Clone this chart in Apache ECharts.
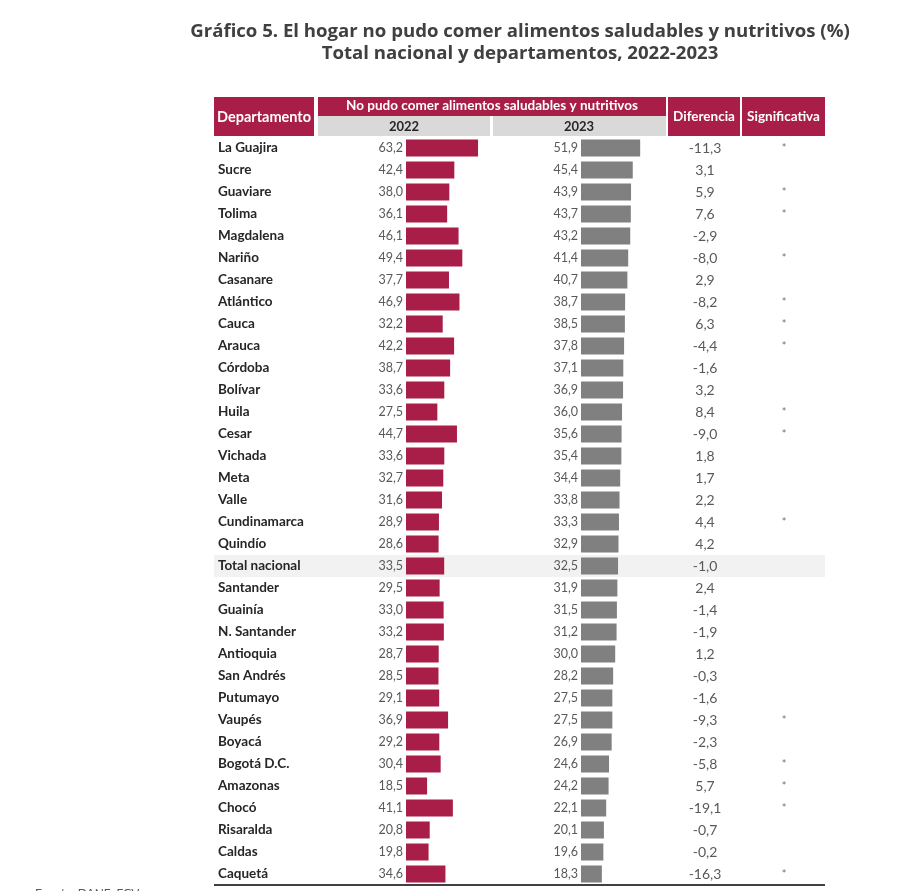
<!DOCTYPE html>
<html>
<head>
<meta charset="utf-8">
<script src="https://cdn.jsdelivr.net/npm/echarts@6/dist/echarts.min.js"></script>
<style>html,body{margin:0;padding:0;background:#fff}#c{width:906px;height:891px}</style>
</head>
<body>
<div id="c"></div>
<script>
const departamentos = ['La Guajira','Sucre','Guaviare','Tolima','Magdalena','Nariño','Casanare','Atlántico','Cauca','Arauca','Córdoba','Bolívar','Huila','Cesar','Vichada','Meta','Valle','Cundinamarca','Quindío','Total nacional','Santander','Guainía','N. Santander','Antioquia','San Andrés','Putumayo','Vaupés','Boyacá','Bogotá D.C.','Amazonas','Chocó','Risaralda','Caldas','Caquetá'];
const valores2022 = [63.2,42.4,38.0,36.1,46.1,49.4,37.7,46.9,32.2,42.2,38.7,33.6,27.5,44.7,33.6,32.7,31.6,28.9,28.6,33.5,29.5,33.0,33.2,28.7,28.5,29.1,36.9,29.2,30.4,18.5,41.1,20.8,19.8,34.6];
const valores2023 = [51.9,45.4,43.9,43.7,43.2,41.4,40.7,38.7,38.5,37.8,37.1,36.9,36.0,35.6,35.4,34.4,33.8,33.3,32.9,32.5,31.9,31.5,31.2,30.0,28.2,27.5,27.5,26.9,24.6,24.2,22.1,20.1,19.6,18.3];
const diferencia = [-11.3,3.1,5.9,7.6,-2.9,-8.0,2.9,-8.2,6.3,-4.4,-1.6,3.2,8.4,-9.0,1.8,1.7,2.2,4.4,4.2,-1.0,2.4,-1.4,-1.9,1.2,-0.3,-1.6,-9.3,-2.3,-5.8,5.7,-19.1,-0.7,-0.2,-16.3];
const significativa = ['*','','*','*','','*','','*','*','*','','','*','*','','','','*','','','','','','','','','*','','*','*','*','','','*'];

const fmt = v => v.toFixed(1).replace('.', ',');
const FONT = 'Lato';
const CRIMSON = '#A81E48';
const GREYBAR = '#808080';
const TXT = '#595959';

const rowTop = 137, rowH = 22, n = departamentos.length;
const gridH = rowH * n;
const totalIdx = departamentos.indexOf('Total nacional');

function grid(left, width) { return {left: left, width: width, top: rowTop, height: gridH, containLabel: false}; }
function hiddenX(idx, max) { return {gridIndex: idx, type: 'value', min: 0, max: max, show: false}; }
function catY(idx, labelCfg) {
  return Object.assign({
    gridIndex: idx, type: 'category', inverse: true, data: departamentos,
    axisLine: {show: false}, axisTick: {show: false}, splitLine: {show: false}
  }, labelCfg);
}

const option = {
  animation: false,
  backgroundColor: '#fff',
  title: [
    {text: 'Gráfico 5. El hogar no pudo comer alimentos saludables y nutritivos (%)', left: 515, top: 17, textAlign: 'center',
     textStyle: {fontFamily: 'Open Sans', fontWeight: 'bold', fontSize: 18.6, color: '#404040'}},
    {text: 'Total nacional y departamentos, 2022-2023', left: 515, top: 39, textAlign: 'center',
     textStyle: {fontFamily: 'Open Sans', fontWeight: 'bold', fontSize: 18.6, color: '#404040'}}
  ],
  grid: [grid(406, 114), grid(581, 114), grid(705, 0), grid(784, 0)],
  xAxis: [hiddenX(0, 100), hiddenX(1, 100), hiddenX(2, 1), hiddenX(3, 1)],
  yAxis: [
    catY(0, {axisLabel: {show: true, align: 'left', margin: 188, fontFamily: FONT, fontWeight: 'bold', fontSize: 13.5, color: '#262626'}}),
    catY(1, {axisLabel: {show: false}}),
    catY(2, {axisLabel: {show: true, align: 'center', margin: 0, fontFamily: FONT, fontSize: 14, color: TXT,
      formatter: (v, i) => fmt(diferencia[i])}}),
    catY(3, {axisLabel: {show: true, align: 'center', margin: 0, fontFamily: FONT, fontSize: 11, color: '#707070',
      formatter: (v, i) => significativa[i]}})
  ],
  graphic: [
    {type: 'rect', shape: {x: 214, y: rowTop + totalIdx * rowH, width: 611, height: rowH}, style: {fill: '#F2F2F2'}, z: -10},
    {type: 'rect', shape: {x: 214, y: 97, width: 100, height: 39}, style: {fill: CRIMSON}},
    {type: 'text', x: 264, y: 117, style: {text: 'Departamento', fill: '#fff', font: 'bold 14.5px Lato', align: 'center', verticalAlign: 'middle'}},
    {type: 'rect', shape: {x: 318, y: 97, width: 348, height: 19}, style: {fill: CRIMSON}},
    {type: 'text', x: 492, y: 106, style: {text: 'No pudo comer alimentos saludables y nutritivos', fill: '#fff', font: 'bold 13.5px Lato', align: 'center', verticalAlign: 'middle'}},
    {type: 'rect', shape: {x: 318, y: 116, width: 172, height: 20}, style: {fill: '#D9D9D9'}},
    {type: 'text', x: 404, y: 126.5, style: {text: '2022', fill: '#262626', font: 'bold 13px Lato', align: 'center', verticalAlign: 'middle'}},
    {type: 'rect', shape: {x: 493, y: 116, width: 173, height: 20}, style: {fill: '#D9D9D9'}},
    {type: 'text', x: 579, y: 126.5, style: {text: '2023', fill: '#262626', font: 'bold 13px Lato', align: 'center', verticalAlign: 'middle'}},
    {type: 'rect', shape: {x: 668, y: 97, width: 72, height: 39}, style: {fill: CRIMSON}},
    {type: 'text', x: 704, y: 117, style: {text: 'Diferencia', fill: '#fff', font: 'bold 13.5px Lato', align: 'center', verticalAlign: 'middle'}},
    {type: 'rect', shape: {x: 742, y: 97, width: 83, height: 39}, style: {fill: CRIMSON}},
    {type: 'text', x: 783.5, y: 117, style: {text: 'Significativa', fill: '#fff', font: 'bold 13.5px Lato', align: 'center', verticalAlign: 'middle'}},
    {type: 'line', shape: {x1: 214, y1: rowTop + gridH, x2: 825, y2: rowTop + gridH}, style: {stroke: '#000', lineWidth: 1.5}},
    {type: 'text', x: 35, y: 887, style: {text: 'Fuente: DANE, ECV', fill: '#595959', font: '12px Lato', verticalAlign: 'top'}}
  ],
  series: [
    {type: 'bar', xAxisIndex: 0, yAxisIndex: 0, data: valores2022, barWidth: 17,
     itemStyle: {color: CRIMSON},
     label: {show: true, position: 'left', distance: 3, formatter: p => fmt(p.value), fontFamily: FONT, fontSize: 12.5, color: TXT}},
    {type: 'bar', xAxisIndex: 1, yAxisIndex: 1, data: valores2023, barWidth: 17,
     itemStyle: {color: GREYBAR},
     label: {show: true, position: 'left', distance: 3, formatter: p => fmt(p.value), fontFamily: FONT, fontSize: 12.5, color: TXT}}
  ]
};
echarts.init(document.getElementById('c')).setOption(option);
</script>
</body>
</html>
